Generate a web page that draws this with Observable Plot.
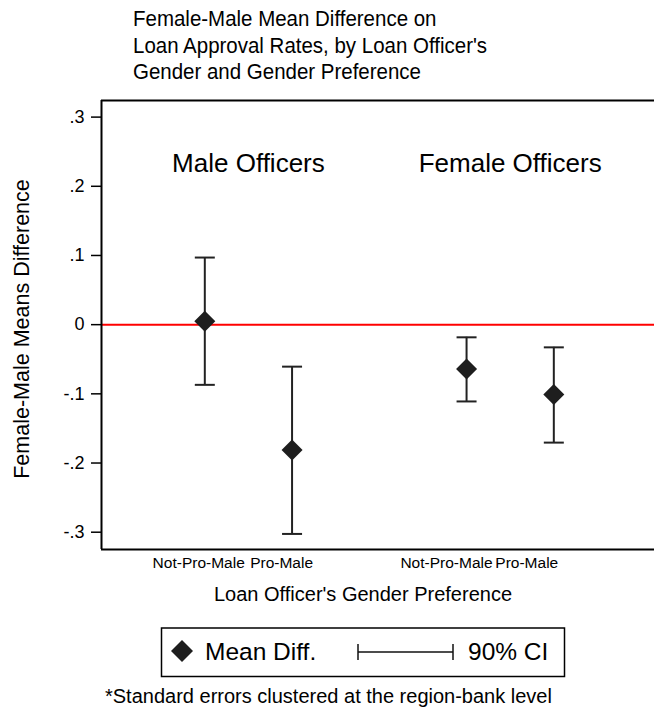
<!DOCTYPE html>
<html>
<head>
<meta charset="utf-8">
<script src="https://cdn.jsdelivr.net/npm/d3@7"></script>
<script src="https://cdn.jsdelivr.net/npm/@observablehq/plot@0.6"></script>
<style>
  html, body { margin: 0; padding: 0; background: #fff; }
  body { width: 654px; height: 715px; position: relative; overflow: hidden;
         font-family: "Liberation Sans", Arial, Helvetica, sans-serif; color: #000; }
  #title { position: absolute; left: 133px; top: 6px; font-size: 22.5px; line-height: 26.5px; white-space: nowrap;
           transform: scaleX(0.91); transform-origin: 0 0; }
  #chart { position: absolute; left: 0; top: 95px; }
  #legend { position: absolute; left: 0; top: 620px; }
  #caption { position: absolute; left: 105px; top: 686px; font-size: 20px; line-height: 20px; white-space: nowrap; }
</style>
</head>
<body>
<div id="title"><div>Female-Male Mean Difference on</div><div>Loan Approval Rates, by Loan Officer's</div><div>Gender and Gender Preference</div></div>
<div id="chart"></div>
<div id="legend"></div>
<div id="caption">*Standard errors clustered at the region-bank level</div>
<script>
// ---- data ----
const officerGroup = ["Male Officers", "Male Officers", "Female Officers", "Female Officers"];
const preference = ["Not-Pro-Male", "Pro-Male", "Not-Pro-Male", "Pro-Male"];
const xPosition = [1, 2, 4, 5];
const meanDiff = [0.005, -0.181, -0.064, -0.101];
const ciLow = [-0.087, -0.3025, -0.111, -0.1705];
const ciHigh = [0.097, -0.0607, -0.0183, -0.0328];

const groupLabels = ["Male Officers", "Female Officers"];
const groupLabelX = [1.5, 4.5];

const xTickLabels = ["Not-Pro-Male", "Pro-Male", "Not-Pro-Male", "Pro-Male"];
const xTickPos = [0.93, 1.88, 3.77, 4.69];

const yTicks = [-0.3, -0.2, -0.1, 0, 0.1, 0.2, 0.3];
const yTickLabels = ["-.3", "-.2", "-.1", "0", ".1", ".2", ".3"];

const xDomain = [-0.184, 6.154];
const yDomain = [-0.325, 0.324];

// ---- build ----
const rows = meanDiff.map((m, i) => ({
  group: officerGroup[i], pref: preference[i], x: xPosition[i], mean: m, lo: ciLow[i], hi: ciHigh[i]
}));
const groupsData = groupLabels.map((g, i) => ({label: g, x: groupLabelX[i]}));
const xLabelMap = new Map(xTickPos.map((p, i) => [p, xTickLabels[i]]));
const yLabelMap = new Map(yTicks.map((t, i) => [t, yTickLabels[i]]));

const capSymbol = {
  draw(ctx, size) { const r = Math.sqrt(size / Math.PI); ctx.moveTo(-r, 0); ctx.lineTo(r, 0); }
};
const diamondSymbol = {
  draw(ctx, size) { const r = Math.sqrt(size / Math.PI); ctx.moveTo(0, -r); ctx.lineTo(r, 0); ctx.lineTo(0, r); ctx.lineTo(-r, 0); ctx.closePath(); }
};

const chart = Plot.plot({
  width: 654,
  height: 525,
  marginTop: 5,
  marginBottom: 71,
  marginLeft: 101,
  marginRight: 0,
  style: {fontFamily: '"Liberation Sans", Arial, Helvetica, sans-serif', color: "#000", background: "#fff", overflow: "visible"},
  x: {domain: xDomain},
  y: {domain: yDomain},
  marks: [
    Plot.ruleY([0], {stroke: "#ff0000", strokeWidth: 2}),
    Plot.ruleX(rows, {x: "x", y1: "lo", y2: "hi", stroke: "#222", strokeWidth: 2}),
    Plot.dot(rows, {x: "x", y: "lo", symbol: capSymbol, r: 10, stroke: "#222", strokeWidth: 2, fill: "none"}),
    Plot.dot(rows, {x: "x", y: "hi", symbol: capSymbol, r: 10, stroke: "#222", strokeWidth: 2, fill: "none"}),
    Plot.dot(rows, {x: "x", y: "mean", symbol: diamondSymbol, r: 10.5, fill: "#1e1e1e", stroke: "none"}),
    Plot.text(groupsData, {x: "x", text: "label", frameAnchor: "top", dy: 53, fontSize: 26, fill: "#000"}),
    // frame (left, bottom, top)
    Plot.ruleX([xDomain[0]], {stroke: "#000", strokeWidth: 2}),
    Plot.ruleY([yDomain[0]], {stroke: "#000", strokeWidth: 2}),
    Plot.ruleY([yDomain[1]], {stroke: "#000", strokeWidth: 2}),
    Plot.axisY({ticks: yTicks, tickFormat: d => yLabelMap.get(d), tickSize: 10, tickPadding: 7, fontSize: 18, strokeWidth: 1.5, label: null}),
    Plot.axisX({ticks: xTickPos, tickFormat: d => xLabelMap.get(d), tickSize: 0, tickPadding: 7, fontSize: 15.5, label: null}),
    Plot.text(["Female-Male Means Difference"], {text: d => d, frameAnchor: "left", textAnchor: "middle", dx: -79, dy: 4, rotate: -90, fontSize: 21.5, fill: "#000"}),
    Plot.text(["Loan Officer's Gender Preference"], {text: d => d, frameAnchor: "bottom", dx: -15, dy: 51, fontSize: 20, fill: "#000"})
  ]
});
document.getElementById("chart").appendChild(chart);

// ---- legend (outside the plot) ----
const NS = "http://www.w3.org/2000/svg";
const lg = document.createElementNS(NS, "svg");
lg.setAttribute("width", 654); lg.setAttribute("height", 62);
lg.innerHTML = `
  <rect x="161.5" y="8" width="403" height="48.5" fill="#fff" stroke="#000" stroke-width="1.5"/>
  <path d="M182,20 L193,31 L182,42 L171,31 Z" fill="#1e1e1e"/>
  <text x="205" y="40" font-size="24.5" font-family="Liberation Sans, Arial, sans-serif" fill="#000">Mean Diff.</text>
  <line x1="358" y1="32" x2="453" y2="32" stroke="#111" stroke-width="1.5"/>
  <line x1="358" y1="24" x2="358" y2="40" stroke="#111" stroke-width="1.5"/>
  <line x1="453" y1="24" x2="453" y2="40" stroke="#111" stroke-width="1.5"/>
  <text x="468" y="40" font-size="24.5" font-family="Liberation Sans, Arial, sans-serif" fill="#000">90% CI</text>`;
document.getElementById("legend").appendChild(lg);
</script>
</body>
</html>
